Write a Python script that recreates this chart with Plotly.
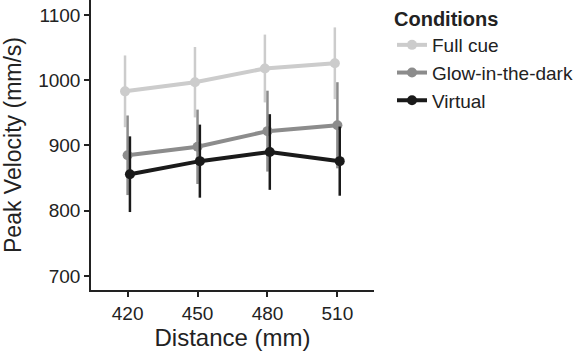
import plotly.graph_objects as go

distances = [420, 450, 480, 510]
conditions = ["Full cue", "Glow-in-the-dark", "Virtual"]
full_cue = [983, 997, 1018, 1026]
full_cue_err = [55, 54, 52, 55]
glow = [885, 898, 922, 931]
glow_err = [61, 57, 62, 66]
virtual = [856, 876, 890, 876]
virtual_err = [58, 56, 58, 53]
dodge = [-1.1, 0.0, 1.0]
colors = ["#cccccc", "#8c8c8c", "#1a1a1a"]

series = [full_cue, glow, virtual]
errors = [full_cue_err, glow_err, virtual_err]

fig = go.Figure()
for name, vals, errs, dx, col in zip(conditions, series, errors, dodge, colors):
    fig.add_trace(go.Scatter(
        x=[d + dx for d in distances], y=vals, name=name,
        mode="lines+markers",
        line=dict(color=col, width=4),
        marker=dict(color=col, size=10),
        error_y=dict(type="data", array=errs, visible=True, color=col,
                     thickness=2.5, width=0),
    ))

font_family = "Liberation Sans, Arial, sans-serif"
fig.update_layout(
    width=578, height=354,
    margin=dict(l=91, r=201, t=0, b=64),
    plot_bgcolor="white", paper_bgcolor="white",
    font=dict(family=font_family, color="#222222", size=19),
    showlegend=True,
    legend=dict(
        title=dict(text="<b>Conditions</b>", font=dict(size=20, color="#222")),
        x=1.064, y=1.0, xanchor="left", yanchor="top",
        font=dict(size=19, color="#222"),
        bgcolor="rgba(0,0,0,0)",
    ),
    xaxis=dict(
        range=[404.3, 525.7], tickvals=distances, ticktext=[str(d) for d in distances],
        showgrid=False, zeroline=False, showline=True, linecolor="#222", linewidth=1.5,
        ticks="outside", ticklen=5, tickwidth=1.5, tickcolor="#222",
        title=dict(text="Distance (mm)", font=dict(size=24), standoff=6),
        tickfont=dict(size=19), automargin=False,
    ),
    yaxis=dict(
        range=[678.5, 1123], tickvals=[700, 800, 900, 1000, 1100],
        showgrid=False, zeroline=False, showline=True, linecolor="#222", linewidth=1.5,
        ticks="outside", ticklen=5, tickwidth=1.5, tickcolor="#222",
        title=dict(text="Peak Velocity (mm/s)", font=dict(size=23), standoff=10),
        tickfont=dict(size=19), automargin=False,
    ),
)

fig.write_html("out.html", config={"displayModeBar": False},
               post_script="document.body.style.margin='0';")
